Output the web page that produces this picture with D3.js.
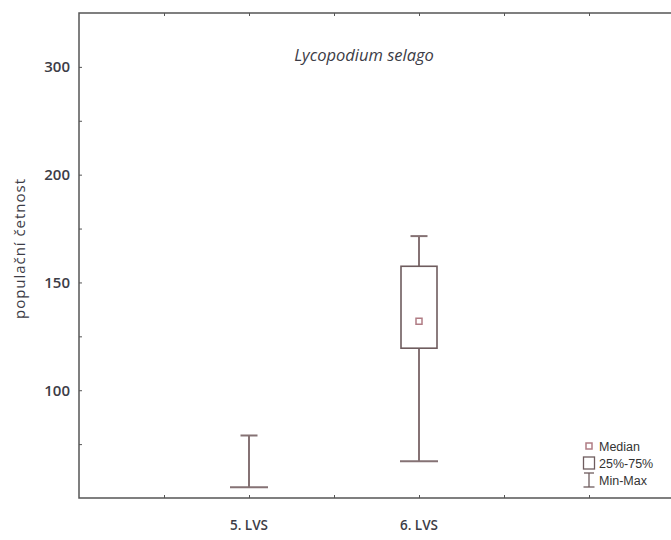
<!DOCTYPE html>
<html><head><meta charset="utf-8">
<script src="https://cdn.jsdelivr.net/npm/d3@7"></script>
<style>html,body{margin:0;padding:0;background:#fff;}svg{display:block;}</style>
</head><body>
<script>
// ---- data ----
const categories = ["5. LVS", "6. LVS"];
const categoryPos = [2, 4];
const minVals = [55, 67];
const q1Vals = [null, 119.5];
const medianVals = [null, 132];
const q3Vals = [null, 157.5];
const maxVals = [79, 171.5];
const yTickValues = [100, 150, 200, 250];
const yTickLabels = ["100", "150", "200", "300"];
const yMinorTicks = [75, 125, 175, 225];
const xTickValues = [1, 2, 3, 4, 5, 6];
const legendLabels = ["Median", "25%-75%", "Min-Max"];
const title = "Lycopodium selago";
const yTitle = "populační četnost";

// ---- layout ----
const W = 671, H = 540;
const L = 79, T = 13, R = 674, B = 498;
const svg = d3.select("body").append("svg").attr("width", W).attr("height", H);

const x = d3.scaleLinear().domain([0, 7]).range([L, R]);
const y = d3.scaleLinear().domain([50, 275]).range([B, T]);

const frameColor = "#555";
const textColor = "#3c3c46";
const boxColor = "#6e5c5e";
const whiskerColor = "#857274";
const medColor = "#b07c84";

// frame
svg.append("rect").attr("x", L).attr("y", T).attr("width", R - L).attr("height", B - T)
  .attr("fill", "none").attr("stroke", frameColor).attr("stroke-width", 1.5);

// y axis ticks (inward) and labels
const yAxis = d3.axisLeft(y).tickValues(yTickValues).tickSize(-3).tickPadding(9)
  .tickFormat((d, i) => yTickLabels[i]);
const gy = svg.append("g").attr("transform", `translate(${L},0)`).call(yAxis);
gy.select(".domain").remove();
gy.selectAll(".tick line").attr("stroke", frameColor);
gy.selectAll(".tick text").attr("fill", textColor).attr("font-family", "Open Sans, sans-serif")
  .attr("font-size", 15).attr("font-weight", 600).attr("dx", 0);
const gym = svg.append("g").attr("transform", `translate(${L},0)`)
  .call(d3.axisLeft(y).tickValues(yMinorTicks).tickSize(-3).tickFormat(""));
gym.select(".domain").remove();
gym.selectAll(".tick line").attr("stroke", frameColor);

// x axis ticks bottom (inward) and top (inward)
const gx = svg.append("g").attr("transform", `translate(0,${B})`)
  .call(d3.axisBottom(x).tickValues(xTickValues).tickSize(-3).tickFormat(""));
gx.select(".domain").remove();
gx.selectAll(".tick line").attr("stroke", frameColor);
const gxt = svg.append("g").attr("transform", `translate(0,${T})`)
  .call(d3.axisTop(x).tickValues(xTickValues).tickSize(-3).tickFormat(""));
gxt.select(".domain").remove();
gxt.selectAll(".tick line").attr("stroke", frameColor);

// category labels
svg.append("g").selectAll("text").data(categories).join("text")
  .attr("x", (d, i) => x(categoryPos[i])).attr("y", 530)
  .attr("text-anchor", "middle").attr("fill", textColor)
  .attr("font-family", "Open Sans, sans-serif").attr("font-size", 13.5).attr("font-weight", 600)
  .text(d => d);

// y title
svg.append("text").attr("transform", "translate(25,249) rotate(-90)")
  .attr("text-anchor", "middle").attr("fill", textColor)
  .attr("font-family", "Open Sans, sans-serif").attr("font-size", 15)
  .attr("textLength", 140).attr("lengthAdjust", "spacing")
  .text(yTitle);

// title
svg.append("text").attr("x", 364).attr("y", 61).attr("text-anchor", "middle")
  .attr("fill", textColor).attr("font-family", "Open Sans, sans-serif")
  .attr("font-size", 16.5).attr("font-style", "italic").text(title);

// boxes
const boxW = 36, capTopW = 17, capBotW = 38;
const g = svg.append("g");
categories.forEach((c, i) => {
  const cx = x(categoryPos[i]);
  const hasBox = q1Vals[i] != null && q3Vals[i] != null;
  const lineAttrs = sel => sel.attr("stroke", whiskerColor).attr("stroke-width", 2);
  if (hasBox) {
    g.append("line").attr("x1", cx).attr("x2", cx).attr("y1", y(maxVals[i])).attr("y2", y(q3Vals[i])).call(lineAttrs);
    g.append("line").attr("x1", cx).attr("x2", cx).attr("y1", y(q1Vals[i])).attr("y2", y(minVals[i])).call(lineAttrs);
    g.append("rect").attr("x", cx - boxW / 2).attr("y", y(q3Vals[i]))
      .attr("width", boxW).attr("height", y(q1Vals[i]) - y(q3Vals[i]))
      .attr("fill", "#fff").attr("stroke", boxColor).attr("stroke-width", 1.6);
  } else {
    g.append("line").attr("x1", cx).attr("x2", cx).attr("y1", y(maxVals[i])).attr("y2", y(minVals[i])).call(lineAttrs);
  }
  g.append("line").attr("x1", cx - capTopW / 2).attr("x2", cx + capTopW / 2)
    .attr("y1", y(maxVals[i])).attr("y2", y(maxVals[i])).call(lineAttrs);
  g.append("line").attr("x1", cx - capBotW / 2).attr("x2", cx + capBotW / 2)
    .attr("y1", y(minVals[i])).attr("y2", y(minVals[i])).call(lineAttrs);
  if (medianVals[i] != null) {
    g.append("rect").attr("x", cx - 3).attr("y", y(medianVals[i]) - 3).attr("width", 6).attr("height", 6)
      .attr("fill", "#fff").attr("stroke", medColor).attr("stroke-width", 1.5);
  }
});

// legend
const lg = svg.append("g");
const lx = 589;
lg.append("rect").attr("x", lx - 3).attr("y", 443).attr("width", 6).attr("height", 6)
  .attr("fill", "#fff").attr("stroke", medColor).attr("stroke-width", 1.5);
lg.append("rect").attr("x", lx - 5.5).attr("y", 457).attr("width", 11).attr("height", 12)
  .attr("fill", "#fff").attr("stroke", boxColor).attr("stroke-width", 1.3);
lg.append("line").attr("x1", lx).attr("x2", lx).attr("y1", 473).attr("y2", 487).attr("stroke", boxColor).attr("stroke-width", 1.3);
lg.append("line").attr("x1", lx - 5).attr("x2", lx + 5).attr("y1", 473).attr("y2", 473).attr("stroke", boxColor).attr("stroke-width", 1.3);
lg.append("line").attr("x1", lx - 5.5).attr("x2", lx + 5.5).attr("y1", 487).attr("y2", 487).attr("stroke", boxColor).attr("stroke-width", 1.3);
lg.selectAll("text").data(legendLabels).join("text")
  .attr("x", 599).attr("y", (d, i) => 451 + i * 17)
  .attr("fill", "#333").attr("font-family", "Liberation Sans, Arial, sans-serif").attr("font-size", 12.5)
  .text(d => d);
</script>
</body></html>
